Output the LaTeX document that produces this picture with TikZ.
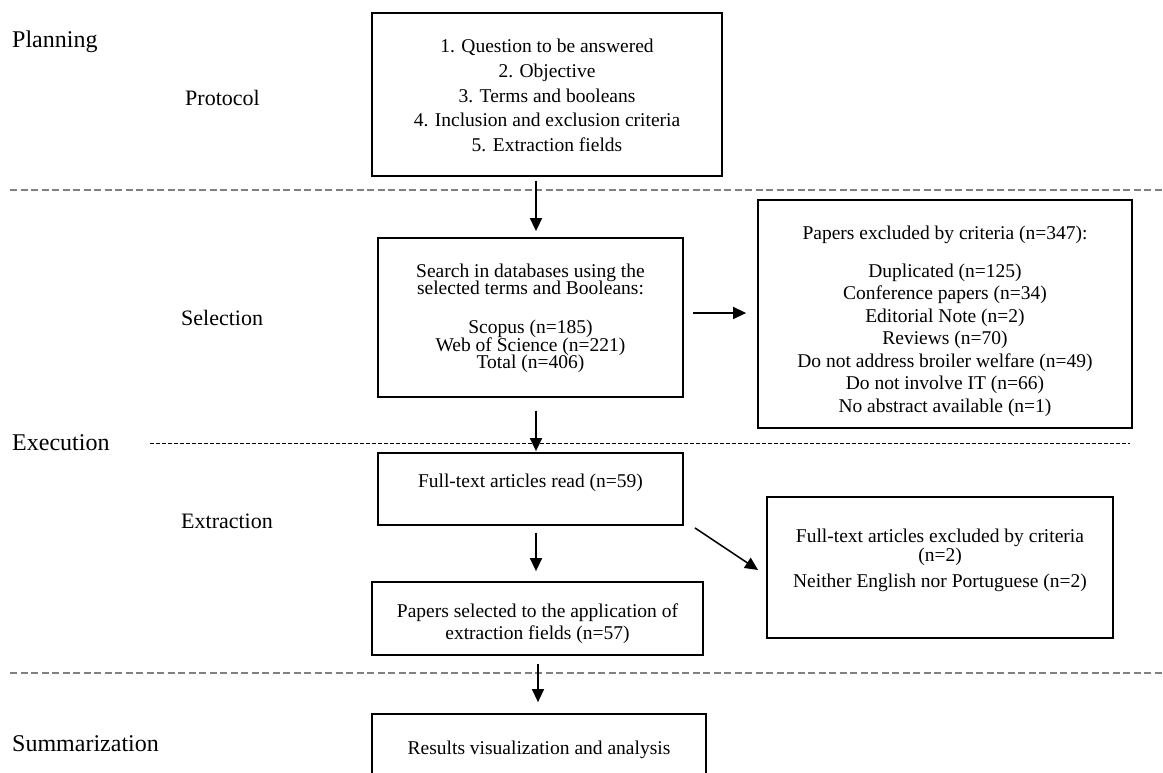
\documentclass[tikz,border=0pt]{standalone}
\usepackage{fontspec}
\setmainfont{Liberation Serif}
\usetikzlibrary{arrows.meta}
\newcommand{\tightlines}{\lineskiplimit -30pt\relax}
\begin{document}
\begin{tikzpicture}[x=1pt,y=-1pt,
  box/.style={draw, line width=1.8pt, rectangle, inner sep=0pt},
  txt/.style={inner sep=0pt, align=center},
  phase/.style={inner sep=0pt, anchor=west, font=\fontsize{24}{28}\selectfont},
  subphase/.style={inner sep=0pt, anchor=west, font=\fontsize{22}{26}\selectfont},
  arr/.style={line width=1.5pt, -{Triangle[length=13pt,width=12pt]}},
  sepline/.style={draw=black!50, line width=1.3pt, dash pattern=on 7pt off 3.5pt},
  thinsep/.style={draw=black, line width=0.9pt, dash pattern=on 4pt off 2pt}]
\useasboundingbox (0,0) rectangle (1163,772);
\clip (0,0) rectangle (1163,772);

% separators
\draw[sepline] (10,190) -- (1163,190);
\draw[thinsep] (150,443) -- (1130,443);
\draw[sepline] (10,673) -- (1163,673);

% phase labels
\node[phase] (planning) at (12,42) {Planning};
\node[subphase] (protocol) at (185,98) {Protocol};
\node[subphase] (selection) at (181,318) {Selection};
\node[phase] (execution) at (12,443) {Execution};
\node[subphase] (extraction) at (181,521) {Extraction};
\node[phase] (summarization) at (12,744) {Summarization};

% boxes
\node[box, minimum width=350pt, minimum height=163pt] (prot) at (547,94.5) {};
\node[box, minimum width=305pt, minimum height=159pt] (search) at (530.5,317.5) {};
\node[box, minimum width=374pt, minimum height=228pt] (excl) at (945,314) {};
\node[box, minimum width=305pt, minimum height=72pt] (ft) at (530.5,489) {};
\node[box, minimum width=331pt, minimum height=73pt] (pap) at (537.5,618.5) {};
\node[box, minimum width=346pt, minimum height=141pt] (ex2) at (940,567.5) {};
\node[box, minimum width=334pt, minimum height=86pt] (res) at (539,757) {};

% box texts
\node[txt, font={\fontsize{19.5}{17.5}\selectfont\tightlines}] (search-t) at (530.5,318.5) {Search in databases using the\\selected terms and Booleans:\\[21.5pt]Scopus (n=185)\\Web of Science (n=221)\\Total (n=406)};
\node[txt, font={\fontsize{19.5}{24.75}\selectfont}] (prot-t) at (547,95.5) {1. Question to be answered\\2. Objective\\3. Terms and booleans\\4. Inclusion and exclusion criteria\\5. Extraction fields};
\node[txt, font={\fontsize{19.5}{22.5}\selectfont}] (excl-t) at (945,321) {Papers excluded by criteria (n=347):\\[15.5pt]Duplicated (n=125)\\Conference papers (n=34)\\Editorial Note (n=2)\\Reviews (n=70)\\Do not address broiler welfare (n=49)\\Do not involve IT (n=66)\\No abstract available (n=1)};
\node[txt, font={\fontsize{19.5}{22.5}\selectfont}] (ft-t) at (530.5,483) {Full-text articles read (n=59)};
\node[txt, font={\fontsize{19.5}{22}\selectfont}] (pap-t) at (537.5,623.5) {Papers selected to the application of\\extraction fields (n=57)};
\node[txt, font={\fontsize{19.5}{19}\selectfont\tightlines}] (ex2-t) at (940,560) {Full-text articles excluded by criteria\\(n=2)\\[7pt]Neither English nor Portuguese (n=2)};
\node[txt, font={\fontsize{19.5}{22.5}\selectfont}] (res-t) at (539,750) {Results visualization and analysis};

% connectors
\coordinate (ax) at (536,0);
\coordinate (bx) at (538,0);
\coordinate (ay) at (0,313);
\draw[arr, shorten <=4pt, shorten >=6pt] (prot.south -| ax) -- (search.north -| ax);
\draw[arr, shorten <=9pt, shorten >=11pt] (search.east |- ay) -- (excl.west |- ay);
\draw[arr, shorten <=13pt, shorten >=1pt] (search.south -| ax) -- (ft.north -| ax);
\draw[arr, shorten <=7pt, shorten >=10pt] (ft.south -| ax) -- (pap.north -| ax);
\draw[arr] ([xshift=11pt,yshift=-2pt]ft.south east) -- ([xshift=-8pt,yshift=-2.5pt]ex2.west);
\draw[arr, shorten <=8pt, shorten >=11pt] (pap.south -| bx) -- (res.north -| bx);
\end{tikzpicture}
\end{document}
